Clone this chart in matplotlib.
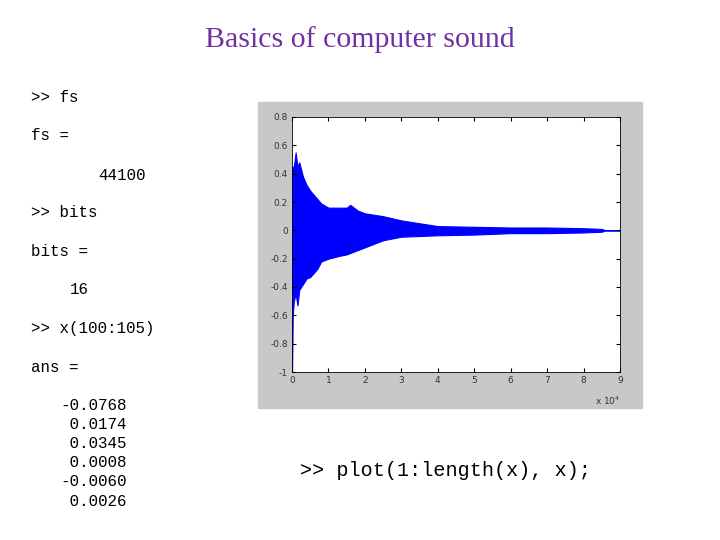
import numpy as np
import matplotlib.pyplot as plt
from matplotlib.patches import Rectangle

# envelope of the sound wave (x in units of 1e4 samples)
env_x = [0, 0.02, 0.05, 0.1, 0.15, 0.2, 0.3, 0.4, 0.5, 0.7, 0.8, 1.0, 1.3, 1.5, 1.6, 1.8, 2.0,
         2.5, 3.0, 3.5, 4.0, 5.0, 6.0, 7.0, 8.0, 8.5, 8.6, 9.0]
env_hi = [0.45, 0.45, 0.45, 0.55, 0.45, 0.48, 0.38, 0.32, 0.28, 0.22, 0.19, 0.16, 0.16, 0.16,
          0.18, 0.14, 0.12, 0.10, 0.07, 0.05, 0.03, 0.025, 0.02, 0.02, 0.015, 0.01, 0.0, 0.0]
env_lo = [-1.0, -0.6, -0.5, -0.45, -0.53, -0.42, -0.38, -0.34, -0.33, -0.27, -0.22, -0.2, -0.18,
          -0.17, -0.16, -0.14, -0.12, -0.07, -0.045, -0.04, -0.035, -0.03, -0.02, -0.02, -0.015,
          -0.01, 0.0, 0.0]

yticks = [-1, -0.8, -0.6, -0.4, -0.2, 0, 0.2, 0.4, 0.6, 0.8]
ytick_labels = ['-1', '-0.8', '-0.6', '-0.4', '-0.2', '0', '0.2', '0.4', '0.6', '0.8']
xticks = list(range(10))

console_lines = [('>> fs', 31, 98), ('fs =', 31, 136), ('44100', 98, 175),
                 ('>> bits', 31, 213), ('bits =', 31, 252), ('16', 70, 290),
                 ('>> x(100:105)', 31, 328), ('ans =', 31, 367)]
ans_values = ['-0.0768', ' 0.0174', ' 0.0345', ' 0.0008', '-0.0060', ' 0.0026']

W, H = 720, 540
fig = plt.figure(figsize=(7.2, 5.4), dpi=100)
fig.patch.set_facecolor('white')

fig.text(360 / W, 1 - 40 / H, 'Basics of computer sound', ha='center', va='center',
         family='Liberation Serif', fontsize=21.5, color='#7030A0')

for txt, x, y in console_lines:
    fig.text(x / W, 1 - y / H, txt, family='Liberation Mono', fontsize=11.4, va='center')
for i, v in enumerate(ans_values):
    fig.text(60 / W, 1 - (405 + 19.2 * i) / H, v, family='Liberation Mono', fontsize=11.4, va='center')

fig.text(300 / W, 1 - 470 / H, '>> plot(1:length(x), x);', family='Liberation Mono',
         fontsize=14.5, va='center')

fig.patches.append(Rectangle((258 / W, 1 - 408 / H), 384 / W, 306 / H,
                             transform=fig.transFigure, color='#c8c8c8', zorder=-1))

ax = fig.add_axes([292 / W, 1 - 372 / H, 328 / W, 255 / H])
ax.fill_between(env_x, env_lo, env_hi, color='#0000ff', lw=0.8, edgecolor='#0000ff')
ax.set_xlim(0, 9)
ax.set_ylim(-1, 0.8)
ax.set_xticks(xticks)
ax.set_yticks(yticks)
ax.set_yticklabels(ytick_labels)
ax.tick_params(direction='in', top=True, right=True, labelsize=6.5, length=3, pad=3,
               labelcolor='#333333')
for s in ax.spines.values():
    s.set_linewidth(0.6)
fig.text(595 / W, 1 - 401 / H, r'x 10$^4$', fontsize=6.5, color='#333333', va='center')

fig.savefig('out.png', dpi=100)
